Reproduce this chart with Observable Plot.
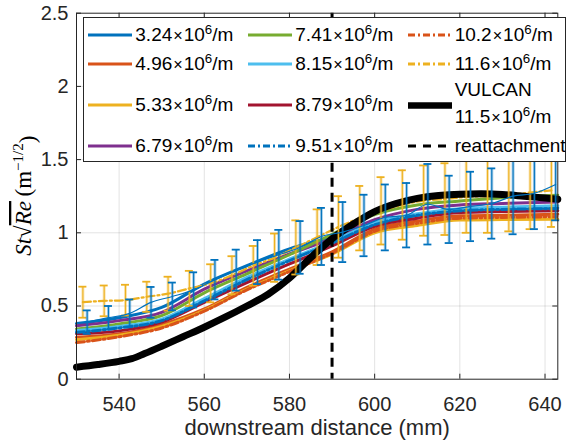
<!DOCTYPE html>
<html><head><meta charset="utf-8">
<script src="https://cdn.jsdelivr.net/npm/d3@7"></script>
<script src="https://cdn.jsdelivr.net/npm/@observablehq/plot@0.6"></script>
<style>
body{margin:0;background:#fff;}
#wrap{position:relative;width:566px;height:445px;font-family:"Liberation Sans",Arial,sans-serif;}
#legend{position:absolute;left:82.5px;top:17px;width:483px;height:145px;background:#fff;border:1px solid #262626;box-sizing:border-box;}
.item{position:absolute;display:flex;align-items:center;font-size:19px;color:#000;white-space:nowrap;transform:translateY(-50%);}
.item svg{flex:none;margin-right:3px;}
.sup{font-size:0.7em;position:relative;top:-0.55em;}
.x{font-size:0.85em;margin:0 1px;}
</style></head><body><div id="wrap"></div><script>
// ---------- data ----------
const xPos = [530,540,550,560,570,580,590,600,610,620,630,643];
const re324 = [0.38,0.42,0.49,0.65,0.775,0.89,0.97,1.06,1.12,1.155,1.165,1.17];
const re496 = [0.286,0.31,0.373,0.48,0.627,0.752,0.87,1.025,1.08,1.116,1.12,1.127];
const re533 = [0.27,0.30,0.36,0.47,0.615,0.74,0.855,1.0,1.05,1.087,1.09,1.093];
const re679 = [0.365,0.40,0.457,0.615,0.74,0.855,0.96,1.09,1.16,1.19,1.20,1.21];
const re741 = [0.343,0.378,0.434,0.59,0.72,0.85,0.99,1.125,1.19,1.218,1.24,1.257];
const re815 = [0.332,0.36,0.41,0.55,0.695,0.82,0.94,1.07,1.13,1.165,1.175,1.184];
const re879 = [0.31,0.33,0.39,0.525,0.66,0.787,0.91,1.045,1.10,1.138,1.145,1.15];
const re951 = [0.32,0.35,0.40,0.535,0.68,0.81,0.93,1.055,1.12,1.15,1.16,1.165];
const re102 = [0.25,0.29,0.35,0.465,0.61,0.735,0.86,1.01,1.065,1.10,1.105,1.11];

// 11.6e6/m series with error bars (yellow)
const yErrX   = [531.5,536.5,541.5,546.5,551.5,556.5,561.5,566.5,571.5,576.5,581.5,586.5,591.5,596.5,601.5,606.5,611.5,616.5,621.5,626.5,631.5,636.5,641.5];
const yErrMid = [0.526,0.535,0.54,0.563,0.584,0.62,0.655,0.71,0.775,0.83,0.90,0.97,1.04,1.10,1.15,1.19,1.22,1.23,1.245,1.25,1.26,1.275,1.29];
const yErrHalf= [0.106,0.105,0.105,0.103,0.116,0.12,0.13,0.13,0.135,0.165,0.185,0.19,0.21,0.22,0.23,0.237,0.24,0.245,0.245,0.25,0.25,0.25,0.25];

// error-bar mean (blue)
const bErrX   = [532.5,537.5,542.5,547.5,552.5,557.5,562.5,567.5,572.5,577.5,582.5,587.5,592.5,597.5,602.5,607.5,612.5,617.5,622.5,627.5,632.5,637.5,642.5];
const bErrMid = [0.39,0.42,0.45,0.525,0.565,0.61,0.68,0.745,0.80,0.85,0.90,0.975,1.005,1.05,1.105,1.12,1.195,1.16,1.18,1.20,1.25,1.27,1.33];
const bErrHalf= [0.08,0.08,0.095,0.105,0.095,0.12,0.135,0.14,0.15,0.17,0.18,0.195,0.205,0.21,0.225,0.22,0.275,0.23,0.237,0.24,0.26,0.245,0.245];

// VULCAN 11.5e6/m
const vulX = [530,535,540,543,546,550,555,560,565,570,575,580,585,590,595,600,605,610,615,620,625,630,635,640,643];
const vulY = [0.082,0.10,0.122,0.14,0.175,0.225,0.29,0.355,0.425,0.50,0.58,0.69,0.83,0.96,1.06,1.145,1.20,1.235,1.255,1.264,1.266,1.262,1.25,1.237,1.23];

const reattachX = [590];

const xTicks = [540,560,580,600,620,640];
const yTicks = [0,0.5,1,1.5,2,2.5];
const yTickLabels = ["0","0.5","1","1.5","2","2.5"];

const legendMant = ["3.24","4.96","5.33","6.79","7.41","8.15","8.79","9.51","10.2","11.6"];

// ---------- styles ----------
const C = {blue:"#0072BD", orange:"#D95319", yellow:"#EDB120", purple:"#7E2F8E", green:"#77AC30", cyan:"#4DBEEE", red:"#A2142F"};
const DD = "8,3,2,3";
const lineStyles = [
  {c:C.blue, d:null}, {c:C.orange, d:null}, {c:C.yellow, d:null}, {c:C.purple, d:null},
  {c:C.green, d:null}, {c:C.cyan, d:null}, {c:C.red, d:null}, {c:C.blue, d:DD},
  {c:C.orange, d:DD}, {c:C.yellow, d:DD}
];

// ---------- build tables ----------
const mk = (xs, ys) => xs.map((x,i) => ({x, y: ys[i]}));
const noisy = [re324, re496, re533, re679, re741, re815, re879, re951, re102];
const yErr = yErrX.map((x,i) => ({x, mid: yErrMid[i], half: yErrHalf[i]}));
const bErr = bErrX.map((x,i) => ({x, mid: bErrMid[i], half: bErrHalf[i]}));

const W = 566, H = 445, mL = 76, mR = 8.7, mT = 12.7, mB = 66.3;
const iH = H - mT - mB, iW = W - mL - mR;
const axisC = "#262626";

const marks = [
  Plot.gridX(xTicks, {stroke: axisC, strokeOpacity: 0.13}),
  Plot.gridY(yTicks.slice(1, -1), {stroke: axisC, strokeOpacity: 0.13}),
];
noisy.forEach((vals, i) => {
  const st = lineStyles[i];
  marks.push(Plot.line(mk(xPos, vals), {x:"x", y:"y", stroke: st.c, strokeWidth: 3, curve: "monotone-x", strokeDasharray: st.d || undefined}));
});
// 11.6 line
marks.push(Plot.line(yErr, {x:"x", y:"mid", stroke: C.yellow, strokeWidth: 2.2, strokeDasharray: DD, curve:"monotone-x"}));
// VULCAN
marks.push(Plot.line(mk(vulX, vulY), {x:"x", y:"y", stroke:"#000", strokeWidth: 7, curve:"monotone-x"}));
// error bars
function errMarks(data, color) {
  return [
    Plot.ruleX(data, {x:"x", y1: d => d.mid - d.half, y2: d => d.mid + d.half, stroke: color, strokeWidth: 3, strokeOpacity: 0.35}),
    Plot.ruleX(data, {x:"x", y1: d => d.mid - d.half, y2: d => d.mid + d.half, stroke: color, strokeWidth: 1.1}),
    Plot.ruleY(data, {y: d => d.mid + d.half, x1:"x", x2:"x", insetLeft:-4, insetRight:-4, stroke: color, strokeWidth: 1.8}),
    Plot.ruleY(data, {y: d => d.mid - d.half, x1:"x", x2:"x", insetLeft:-4, insetRight:-4, stroke: color, strokeWidth: 1.8}),
  ];
}
marks.push(...errMarks(yErr, C.yellow));
marks.push(...errMarks(bErr, C.blue));
marks.push(Plot.line(bErr, {x:"x", y:"mid", stroke: C.blue, strokeWidth: 1.2, curve:"monotone-x"}));
// reattachment
marks.push(Plot.ruleX(reattachX, {stroke:"#000", strokeWidth: 3, strokeDasharray:"9,6"}));
// frame + inward ticks
marks.push(Plot.frame({stroke: axisC, strokeWidth: 1}));
marks.push(Plot.tickX(xTicks, {x: d => d, insetTop: iH - 5, stroke: axisC}));
marks.push(Plot.tickX(xTicks, {x: d => d, insetBottom: iH - 5, stroke: axisC}));
marks.push(Plot.tickY(yTicks, {y: d => d, insetRight: iW - 5, stroke: axisC}));
marks.push(Plot.tickY(yTicks, {y: d => d, insetLeft: iW - 5, stroke: axisC}));
// axes
marks.push(Plot.axisX(xTicks, {tickSize: 0, tickPadding: 18, fontSize: 20, label: null, fill: axisC}));
marks.push(Plot.axisY(yTicks, {tickSize: 0, tickPadding: 8, fontSize: 20, label: null, fill: axisC, tickFormat: d => yTickLabels[yTicks.indexOf(d)]}));
marks.push(Plot.text(["downstream distance (mm)"], {frameAnchor: "bottom", dy: 56, fontSize: 22, fill: axisC}));

const svg = Plot.plot({
  width: W, height: H, marginLeft: mL, marginRight: mR, marginTop: mT, marginBottom: mB,
  x: {domain: [530, 643]},
  y: {domain: [0, 2.5]},
  style: {fontFamily: '"Liberation Sans", Arial, sans-serif', fontSize: "20px", color: axisC, background: "#fff", overflow: "visible"},
  marks
});

// y label (LaTeX-like)
const t = d3.select(svg).append("text")
  .attr("transform", `translate(31, ${mT + iH/2}) rotate(-90)`)
  .attr("text-anchor", "middle")
  .attr("fill", "#000")
  .style("font-family", '"Liberation Serif", "DejaVu Serif", serif')
  .style("font-size", "23px");
t.append("tspan").style("font-style","italic").text("St");
t.append("tspan").text("\u221A");
t.append("tspan").style("font-style","italic").style("text-decoration","overline").text("Re");
t.append("tspan").text("\u2009(m");
t.append("tspan").attr("dy", "-0.55em").style("font-size","15px").text("\u22121/2");
t.append("tspan").attr("dy", "0.55em").text(")");

const wrap = document.getElementById("wrap");
wrap.appendChild(svg);

// ---------- legend ----------
const legend = document.createElement("div");
legend.id = "legend";
wrap.appendChild(legend);
const colX = [4.8, 164.8, 324.2];
const rowY = [17, 46.3, 87.3, 128];
function swatch(color, width, dash) {
  return `<svg width="44" height="10"><line x1="0" y1="5" x2="44" y2="5" stroke="${color}" stroke-width="${width}" ${dash ? `stroke-dasharray="${dash}"` : ""}/></svg>`;
}
const unit = m => `${m}<span class="x">\u00D7</span>10<span class="sup">6</span>/m`;
function addItem(col, y, sw, html) {
  const d = document.createElement("div");
  d.className = "item";
  d.style.left = colX[col] + "px";
  d.style.top = y + "px";
  d.innerHTML = sw + `<span>${html}</span>`;
  legend.appendChild(d);
}
legendMant.forEach((m, i) => {
  const col = Math.floor(i / 4), row = i % 4;
  addItem(col, rowY[row], swatch(lineStyles[i].c, 3, lineStyles[i].d ? "7,3,2,3" : null), unit(m));
});
addItem(2, rowY[2], swatch("#000", 6.5, null), `<span style="display:inline-block;line-height:26.6px">VULCAN<br>${unit("11.5")}</span>`);
addItem(2, rowY[3], swatch("#000", 3, "8,7"), "reattachment");
</script></body></html>
